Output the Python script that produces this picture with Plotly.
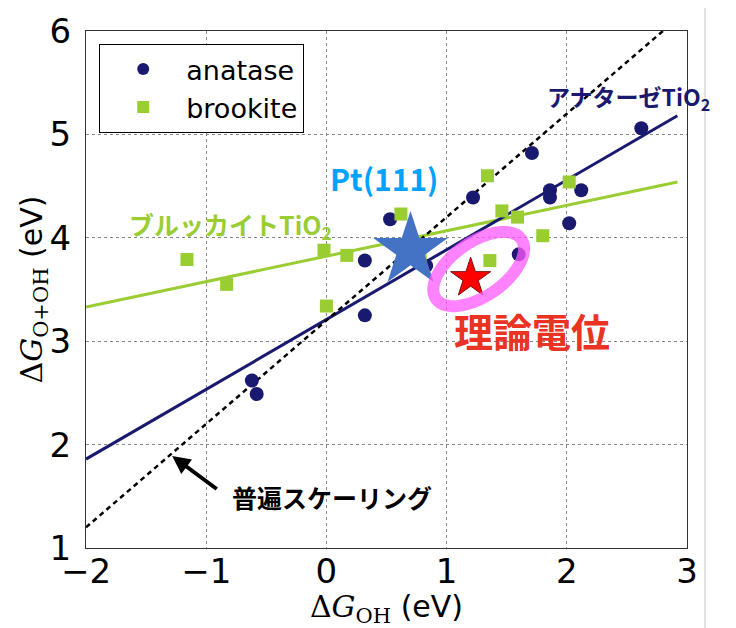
import numpy as np
import plotly.graph_objects as go

# ---------------- data ----------------
anatase_x = [-0.62, -0.58, 0.32, 0.32, 0.53, 0.83, 1.22, 1.60, 1.71, 1.86, 1.86, 2.02, 2.12, 2.62]
anatase_y = [2.62, 2.49, 3.25, 3.78, 4.18, 3.73, 4.39, 3.84, 4.82, 4.46, 4.39, 4.14, 4.46, 5.06]

brookite_x = [-1.16, -0.83, -0.02, 0.00, 0.17, 0.62, 0.78, 1.34, 1.36, 1.46, 1.59, 1.80, 2.02]
brookite_y = [3.79, 3.55, 3.88, 3.34, 3.83, 4.23, 3.80, 4.60, 3.78, 4.26, 4.20, 4.02, 4.54]

fit_x = [-2.0, 2.92]
anatase_fit_y = [1.86, 5.18]
brookite_fit_y = [3.33, 4.54]

scaling_x = [-2.0, 2.8]
scaling_y = [1.2, 6.0]

pt111_x = [0.70]
pt111_y = [3.88]
theory_x = [1.20]
theory_y = [3.61]

x_ticks = [-2, -1, 0, 1, 2, 3]
x_tick_text = ["\u22122", "\u22121", "0", "1", "2", "3"]
y_ticks = [1, 2, 3, 4, 5, 6]

NAVY = "#191970"
GREEN = "#9ACD32"

fig = go.Figure()

fig.add_trace(go.Scatter(x=fit_x, y=brookite_fit_y, mode="lines",
                         line=dict(color=GREEN, width=3), showlegend=False, hoverinfo="skip"))
fig.add_trace(go.Scatter(x=fit_x, y=anatase_fit_y, mode="lines",
                         line=dict(color=NAVY, width=3), showlegend=False, hoverinfo="skip"))
fig.add_trace(go.Scatter(x=scaling_x, y=scaling_y, mode="lines",
                         line=dict(color="black", width=2.5, dash="5px,4px"),
                         showlegend=False, hoverinfo="skip"))

fig.add_trace(go.Scatter(x=anatase_x, y=anatase_y, mode="markers", name="anatase",
                         marker=dict(symbol="circle", size=14, color=NAVY)))
fig.add_trace(go.Scatter(x=brookite_x, y=brookite_y, mode="markers", name="brookite",
                         marker=dict(symbol="square", size=13, color=GREEN)))

fig.add_trace(go.Scatter(x=pt111_x, y=pt111_y, mode="markers", showlegend=False,
                         marker=dict(symbol="star", size=56, color="#4472C4",
                                     line=dict(width=0))))
fig.add_trace(go.Scatter(x=theory_x, y=theory_y, mode="markers", showlegend=False,
                         marker=dict(symbol="star", size=30, color="#FF0000",
                                     line=dict(width=1, color="#7a1010"))))

# ---------------- ellipse highlight ----------------
sx, sy = 120.0, 103.4          # px per data unit
ell_cx, ell_cy = 1.267, 3.698  # centre (data)
ell_a, ell_b, ell_ang = 52.0, 27.0, np.deg2rad(35)
t = np.linspace(0, 2 * np.pi, 80)
px = ell_a * np.cos(t) * np.cos(ell_ang) - ell_b * np.sin(t) * np.sin(ell_ang)
py = ell_a * np.cos(t) * np.sin(ell_ang) + ell_b * np.sin(t) * np.cos(ell_ang)
ex = ell_cx + px / sx
ey = ell_cy + py / sy
path = "M " + " L ".join(f"{a:.4f},{b:.4f}" for a, b in zip(ex, ey)) + " Z"
fig.add_shape(type="path", path=path, xref="x", yref="y",
              line=dict(color="rgba(255,90,255,0.75)", width=12), layer="above")

# page offset (body margin of the html page)
OFF = 8
L, T = 86 - OFF, 31 - OFF
PW, PH = 601, 517

# border artifacts of the original image
fig.add_shape(type="line", xref="paper", yref="paper",
              x0=(12 - 86) / PW, x1=(705 - 86) / PW, y0=(548 - 7) / PH, y1=(548 - 7) / PH,
              line=dict(color="#dcdcdc", width=1))
fig.add_shape(type="line", xref="paper", yref="paper",
              x0=(705 - 86) / PW, x1=(705 - 86) / PW, y0=(548 - 7) / PH, y1=(548 - 640) / PH,
              line=dict(color="#c4c4c4", width=1))

JP = "Noto Sans CJK JP"
ann = [
    dict(x=2.51, y=5.36, text="<b>アナターゼTiO<sub>2</sub></b>", font=dict(family=JP, size=23, color=NAVY)),
    dict(x=0.48, y=4.58, text="<b>Pt(111)</b>", font=dict(family=JP, size=30, color="#00A2FF")),
    dict(x=-0.80, y=4.12, text="<b>ブルッカイトTiO<sub>2</sub></b>", font=dict(family=JP, size=25, color=GREEN)),
    dict(x=1.71, y=3.11, text="<b>理論電位</b>", font=dict(family=JP, size=39, color="#EA3323")),
    dict(x=0.05, y=1.49, text="<b>普遍スケーリング</b>", font=dict(family=JP, size=25, color="black")),
]
for a in ann:
    fig.add_annotation(xref="x", yref="y", showarrow=False, **a)

fig.add_annotation(x=-1.283, y=1.89, ax=-0.9, ay=1.56, xref="x", yref="y",
                   axref="x", ayref="y", text="", showarrow=True,
                   arrowhead=2, arrowsize=0.9, arrowwidth=4, arrowcolor="black")

# y-axis title as rotated annotation
fig.add_annotation(xref="paper", yref="paper", x=(33 - 86) / PW, y=0.5,
                   xanchor="center", yanchor="middle", textangle=-90, showarrow=False,
                   text="<span style='font-family:DejaVu Serif'>Δ<i>G</i><sub>O+OH</sub></span> (eV)",
                   font=dict(family="DejaVu Sans", size=30, color="black"))

fig.update_layout(
    width=736 - OFF, height=628 - OFF,
    margin=dict(l=L, r=736 - OFF - L - PW, t=T, b=628 - OFF - T - PH, autoexpand=False),
    paper_bgcolor="white", plot_bgcolor="white",
    font=dict(family="DejaVu Sans", color="black"),
    legend=dict(x=0.022, y=0.975, xanchor="left", yanchor="top",
                bgcolor="white", bordercolor="black", borderwidth=1,
                font=dict(family="DejaVu Sans", size=27), itemsizing="constant",
                itemwidth=76, tracegroupgap=4),
    xaxis=dict(range=[-2, 3], tickvals=x_ticks, ticktext=x_tick_text,
               tickfont=dict(size=34), showgrid=True, gridcolor="#888",
               griddash="dot", gridwidth=1, zeroline=False,
               showline=True, linecolor="#333", linewidth=1, mirror=True,
               ticks="", ticklabelstandoff=-7, automargin=False,
               title=dict(text="<span style='font-family:DejaVu Serif'>Δ<i>G</i><sub>OH</sub></span> (eV)",
                          font=dict(size=30), standoff=0)),
    yaxis=dict(range=[1, 6], tickvals=y_ticks, tickfont=dict(size=34),
               showgrid=True, gridcolor="#888", griddash="dot", gridwidth=1,
               zeroline=False, showline=True, linecolor="#333", linewidth=1,
               mirror=True, ticks="", ticklabelstandoff=7, automargin=False),
)

fig.write_html("out.html")
